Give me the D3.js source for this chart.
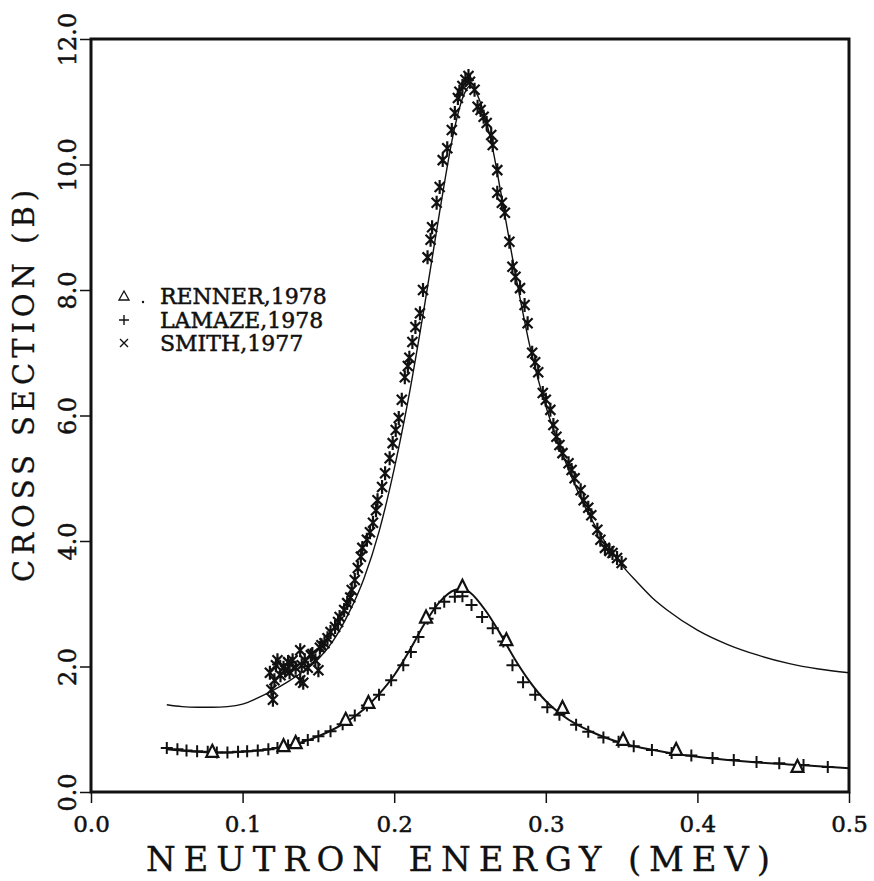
<!DOCTYPE html>
<html>
<head>
<meta charset="utf-8">
<script src="https://cdn.jsdelivr.net/npm/d3@7"></script>
<style>
	body { margin: 0; background: #fff; }
	text { font-family: "DejaVu Serif", "Liberation Serif", serif; fill: #111; stroke: #111; stroke-width: 0.5; }
	text.title { stroke-width: 0.3; }
</style>
</head>
<body>
<div id="chart_area"></div>
<script>

// tick labels
var energy_ticks = [0.0, 0.1, 0.2, 0.3, 0.4, 0.5];
var energy_labels = ["0.0", "0.1", "0.2", "0.3", "0.4", "0.5"];
var sigma_ticks = [0, 2, 4, 6, 8, 10, 12];
var sigma_labels = ["0.0", "2.0", "4.0", "6.0", "8.0", "10.0", "12.0"];

// fitted curves (energy in MeV, cross section in b)
var fit_upper_e = [0.05, 0.06, 0.07, 0.08, 0.09, 0.10, 0.11, 0.12, 0.13, 0.14, 0.15, 0.16, 0.17, 0.18, 0.19, 0.20, 0.21, 0.22, 0.23, 0.24, 0.245, 0.25, 0.255, 0.26, 0.265, 0.27, 0.28, 0.29, 0.30, 0.31, 0.32, 0.33, 0.34, 0.35, 0.36, 0.37, 0.38, 0.40, 0.42, 0.44, 0.46, 0.48, 0.50];
var fit_upper_s = [1.39, 1.36, 1.35, 1.35, 1.36, 1.40, 1.50, 1.62, 1.76, 1.92, 2.12, 2.42, 2.85, 3.40, 4.15, 5.15, 6.35, 7.75, 9.25, 10.60, 11.05, 11.25, 11.10, 10.75, 10.25, 9.60, 8.25, 7.05, 6.15, 5.45, 4.85, 4.35, 3.95, 3.62, 3.35, 3.10, 2.90, 2.58, 2.35, 2.18, 2.05, 1.96, 1.90];

var fit_lower_e = [0.05, 0.06, 0.07, 0.08, 0.09, 0.10, 0.11, 0.12, 0.13, 0.14, 0.15, 0.16, 0.17, 0.18, 0.19, 0.20, 0.21, 0.22, 0.23, 0.24, 0.245, 0.25, 0.26, 0.27, 0.28, 0.29, 0.30, 0.31, 0.32, 0.33, 0.34, 0.35, 0.36, 0.38, 0.40, 0.42, 0.44, 0.46, 0.48, 0.50];
var fit_lower_s = [0.68, 0.66, 0.64, 0.63, 0.63, 0.64, 0.66, 0.69, 0.74, 0.80, 0.89, 1.00, 1.14, 1.32, 1.56, 1.86, 2.25, 2.68, 3.03, 3.22, 3.24, 3.18, 2.90, 2.52, 2.10, 1.74, 1.45, 1.24, 1.08, 0.96, 0.86, 0.78, 0.72, 0.63, 0.56, 0.51, 0.47, 0.44, 0.41, 0.38];

// RENNER,1978 (triangles)
var renner_e = [0.080, 0.127, 0.135, 0.168, 0.183, 0.221, 0.245, 0.274, 0.311, 0.351, 0.386, 0.466];
var renner_s = [0.64, 0.73, 0.78, 1.15, 1.42, 2.78, 3.27, 2.42, 1.34, 0.83, 0.67, 0.40];

// LAMAZE,1978 (plus)
var lamaze_e = [0.050, 0.057, 0.063, 0.070, 0.077, 0.083, 0.090, 0.097, 0.103, 0.110, 0.117, 0.123, 0.130, 0.137, 0.143, 0.150, 0.158, 0.166, 0.174, 0.182, 0.190, 0.198, 0.206, 0.211, 0.216, 0.222, 0.227, 0.233, 0.240, 0.245, 0.251, 0.258, 0.265, 0.272, 0.278, 0.285, 0.293, 0.301, 0.309, 0.320, 0.328, 0.338, 0.348, 0.358, 0.370, 0.383, 0.396, 0.410, 0.424, 0.439, 0.454, 0.470, 0.486];
var lamaze_s = [0.70, 0.68, 0.66, 0.65, 0.64, 0.63, 0.63, 0.64, 0.65, 0.66, 0.68, 0.70, 0.74, 0.78, 0.83, 0.89, 0.97, 1.08, 1.22, 1.38, 1.55, 1.78, 2.02, 2.23, 2.47, 2.76, 2.93, 3.03, 3.11, 3.12, 2.98, 2.79, 2.61, 2.40, 2.02, 1.75, 1.55, 1.35, 1.23, 1.07, 0.96, 0.87, 0.80, 0.73, 0.67, 0.62, 0.58, 0.54, 0.51, 0.48, 0.46, 0.43, 0.40];

// SMITH,1977 (cross)
var smith_e = [0.118, 0.119, 0.120, 0.121, 0.122, 0.123, 0.125, 0.127, 0.128, 0.130, 0.131, 0.133, 0.135, 0.138, 0.138, 0.139, 0.140, 0.141, 0.143, 0.145, 0.146, 0.148, 0.150, 0.151, 0.152, 0.154, 0.156, 0.158, 0.161, 0.163, 0.164, 0.167, 0.169, 0.171, 0.172, 0.174, 0.176, 0.178, 0.179, 0.182, 0.184, 0.186, 0.188, 0.189, 0.192, 0.194, 0.197, 0.199, 0.201, 0.203, 0.205, 0.207, 0.209, 0.210, 0.212, 0.214, 0.217, 0.219, 0.222, 0.224, 0.225, 0.228, 0.230, 0.232, 0.235, 0.238, 0.240, 0.242, 0.243, 0.245, 0.247, 0.249, 0.250, 0.253, 0.255, 0.257, 0.259, 0.261, 0.264, 0.265, 0.268, 0.268, 0.271, 0.273, 0.276, 0.278, 0.280, 0.283, 0.286, 0.288, 0.291, 0.293, 0.295, 0.298, 0.300, 0.303, 0.305, 0.307, 0.309, 0.311, 0.315, 0.317, 0.319, 0.323, 0.325, 0.328, 0.330, 0.334, 0.336, 0.339, 0.342, 0.344, 0.347, 0.350];
var smith_s = [1.90, 1.63, 1.47, 1.78, 2.02, 2.10, 1.86, 1.98, 1.94, 2.07, 1.91, 2.10, 1.98, 2.26, 1.78, 2.02, 1.74, 2.10, 1.98, 2.18, 2.20, 2.10, 1.94, 2.30, 2.34, 2.37, 2.45, 2.55, 2.63, 2.71, 2.79, 2.90, 3.01, 3.10, 3.22, 3.38, 3.57, 3.75, 3.89, 4.02, 4.14, 4.29, 4.49, 4.65, 4.86, 5.08, 5.32, 5.56, 5.77, 5.96, 6.25, 6.61, 6.79, 6.92, 7.17, 7.41, 7.63, 8.00, 8.52, 8.80, 9.00, 9.39, 9.64, 10.07, 10.26, 10.55, 10.82, 11.06, 11.16, 11.25, 11.35, 11.41, 11.32, 11.19, 10.92, 10.87, 10.76, 10.66, 10.47, 10.31, 9.91, 9.55, 9.39, 9.23, 8.77, 8.37, 8.21, 8.03, 7.76, 7.47, 7.00, 6.85, 6.69, 6.36, 6.25, 6.09, 5.85, 5.66, 5.53, 5.40, 5.24, 5.13, 5.00, 4.81, 4.65, 4.53, 4.41, 4.18, 4.02, 3.89, 3.84, 3.81, 3.73, 3.65];

var legend_labels = ["RENNER,1978", "LAMAZE,1978", "SMITH,1977"];

var width = 874,
	height = 881;
var plot_left = 91, plot_right = 849, plot_top = 39, plot_bottom = 792;

var svg = d3.select("#chart_area").append("svg")
	.attr("width", width)
	.attr("height", height);

svg.append("rect").attr("width", width).attr("height", height).attr("fill", "#fff");

var xScale = d3.scaleLinear().domain([0, 0.5]).range([plot_left, plot_right]);
var yScale = d3.scaleLinear().domain([0, 12]).range([plot_bottom, plot_top]);

function pairs(xs, ys) {
	return xs.map(function(x, i) { return [x, ys[i]]; });
}

var line = d3.line()
	.x(function(d) { return xScale(d[0]); })
	.y(function(d) { return yScale(d[1]); })
	.curve(d3.curveMonotoneX);

// fits
svg.append("path")
	.attr("d", line(pairs(fit_upper_e, fit_upper_s)))
	.attr("fill", "none").attr("stroke", "#111").attr("stroke-width", 1.4);
svg.append("path")
	.attr("d", line(pairs(fit_lower_e, fit_lower_s)))
	.attr("fill", "none").attr("stroke", "#111").attr("stroke-width", 2);

// smith crosses with short error bars
svg.append("g").selectAll("path")
	.data(pairs(smith_e, smith_s))
	.enter().append("path")
	.attr("transform", function(d) { return "translate(" + xScale(d[0]) + "," + yScale(d[1]) + ")"; })
	.attr("d", "M-5,-5L5,5M-5,5L5,-5M0,-7L0,7")
	.attr("stroke", "#111").attr("stroke-width", 2.2).attr("fill", "none");

// lamaze plus
svg.append("g").selectAll("path")
	.data(pairs(lamaze_e, lamaze_s))
	.enter().append("path")
	.attr("transform", function(d) { return "translate(" + xScale(d[0]) + "," + yScale(d[1]) + ")"; })
	.attr("d", "M-6,0L6,0M0,-6L0,6")
	.attr("stroke", "#111").attr("stroke-width", 2).attr("fill", "none");

// renner triangles
svg.append("g").selectAll("path")
	.data(pairs(renner_e, renner_s))
	.enter().append("path")
	.attr("transform", function(d) { return "translate(" + xScale(d[0]) + "," + yScale(d[1]) + ")"; })
	.attr("d", "M0,-7L6,5L-6,5Z")
	.attr("stroke", "#111").attr("stroke-width", 2.2).attr("fill", "#fff");

// frame
svg.append("rect")
	.attr("x", plot_left).attr("y", plot_top)
	.attr("width", plot_right - plot_left).attr("height", plot_bottom - plot_top)
	.attr("fill", "none").attr("stroke", "#111").attr("stroke-width", 3);

// x axis ticks + labels
var xAxis = svg.append("g")
	.attr("transform", "translate(0," + plot_bottom + ")")
	.call(d3.axisBottom(xScale).tickValues(energy_ticks)
		.tickFormat(function(d, i) { return energy_labels[i]; })
		.tickSize(11).tickSizeOuter(0).tickPadding(13));
xAxis.select(".domain").remove();
xAxis.selectAll("line").attr("stroke", "#111").attr("stroke-width", 1.5);
xAxis.selectAll("text").attr("font-size", 23).attr("font-family", "DejaVu Serif").attr("fill", "#111");

// y axis ticks + rotated labels
var yAxis = svg.append("g")
	.attr("transform", "translate(" + plot_left + ",0)")
	.call(d3.axisLeft(yScale).tickValues(sigma_ticks)
		.tickFormat(function(d, i) { return sigma_labels[i]; })
		.tickSize(11).tickSizeOuter(0));
yAxis.select(".domain").remove();
yAxis.selectAll("line").attr("stroke", "#111").attr("stroke-width", 1.5);
yAxis.selectAll("text")
	.attr("x", null).attr("dy", null)
	.attr("transform", "translate(-15,0) rotate(-90)")
	.attr("text-anchor", "middle")
	.attr("font-size", 24).attr("font-family", "DejaVu Serif").attr("fill", "#111");

// axis titles
svg.append("text")
	.attr("class", "title")
	.attr("x", 146).attr("y", 871)
	.attr("textLength", 624).attr("lengthAdjust", "spacing")
	.attr("font-size", 34)
	.text("NEUTRON  ENERGY  (MEV)");
svg.append("text")
	.attr("class", "title")
	.attr("transform", "translate(34,582) rotate(-90)")
	.attr("textLength", 392).attr("lengthAdjust", "spacing")
	.attr("font-size", 29)
	.text("CROSS SECTION  (B)");

// legend
var legend = svg.append("g").attr("class", "legendText");
var legend_y = [296, 320, 343];
legend.append("path").attr("d", "M124,291L129,300L119,300Z")
	.attr("fill", "none").attr("stroke", "#111").attr("stroke-width", 1.3);
legend.append("circle").attr("cx", 143).attr("cy", 302).attr("r", 1.2).attr("fill", "#111");
legend.append("path").attr("d", "M119,320L129,320M124,315L124,325")
	.attr("stroke", "#111").attr("stroke-width", 1.4);
legend.append("path").attr("d", "M120,339L128,347M120,347L128,339")
	.attr("stroke", "#111").attr("stroke-width", 1.4);
legend.selectAll("text")
	.data(legend_labels)
	.enter().append("text")
	.attr("x", 160)
	.attr("y", function(d, i) { return legend_y[i] + 8; })
	.attr("font-size", 22)
	.text(function(d) { return d; });

</script>
</body>
</html>
